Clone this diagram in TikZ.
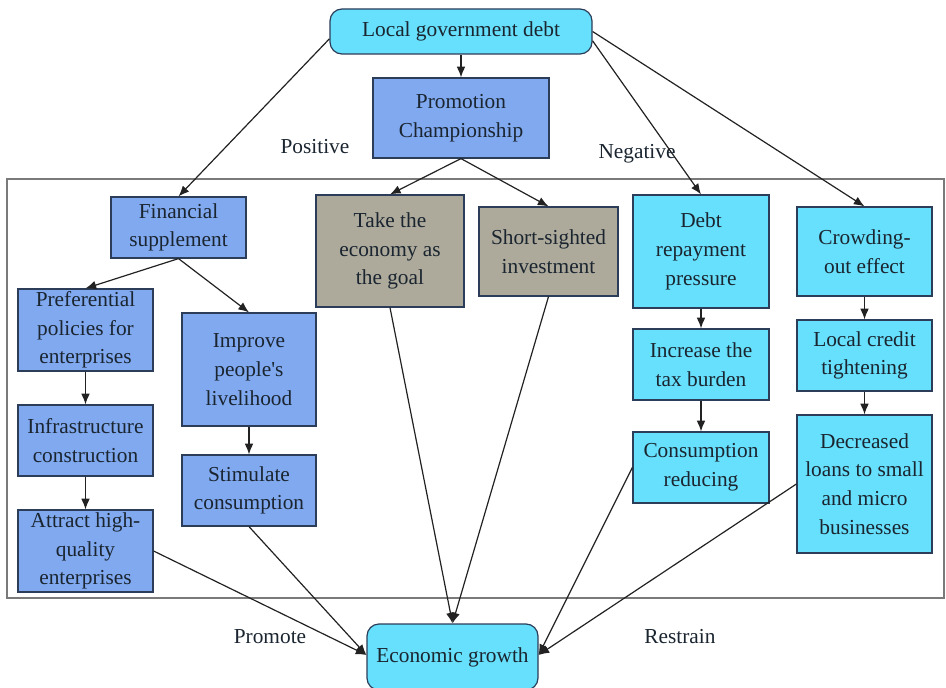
\documentclass[tikz,border=0pt]{standalone}
\usepackage{fontspec}
\setmainfont{Liberation Serif}
\usetikzlibrary{arrows.meta}
\definecolor{cyanfill}{HTML}{66E0FC}
\definecolor{bluefill}{HTML}{80A9F0}
\definecolor{grayfill}{HTML}{ADA99B}
\definecolor{boxline}{HTML}{2B3D58}
\definecolor{textcol}{HTML}{1A2530}
\definecolor{linecol}{HTML}{222222}
\definecolor{framecol}{HTML}{7A7A7A}
% \boxat{style}{name}{left}{top}{right}{bottom}{text}
\newcommand{\boxat}[7]{%
  \node[#1, minimum width={(#5-#3)*0.75pt}, minimum height={(#6-#4)*0.75pt}]
    (#2) at ({(#3+#5)/2},{(#4+#6)/2}) {#7};}
\begin{document}
\begin{tikzpicture}[x=0.75pt,y=-0.75pt,
  box/.style={draw=boxline, line width=0.9pt, inner sep=0pt, align=center,
    font=\fontsize{16}{21.5}\selectfont, text=textcol},
  cyanbox/.style={box, fill=cyanfill},
  bluebox/.style={box, fill=bluefill},
  graybox/.style={box, fill=grayfill},
  roundbox/.style={box, fill=cyanfill, rounded corners=9pt},
  arr/.style={draw=linecol, line width=0.9pt, -{Latex[length=8pt,width=6.5pt]}},
  lbl/.style={font=\fontsize{16}{20}\selectfont, text=textcol}]
\useasboundingbox (0,0) rectangle (946,688);

% frame around the lower part
\draw[framecol, line width=1pt] (7,179) rectangle (944,598);

% top
\boxat{roundbox}{lgd}{330}{9}{592}{54}{Local government debt}
\boxat{bluebox}{pc}{373}{78}{549}{158}{Promotion\\Championship}

% positive branch
\boxat{bluebox}{fs}{111}{197}{246}{258}{Financial\\supplement}
\boxat{bluebox}{pref}{18}{289}{153}{371}{Preferential\\policies for\\enterprises}
\boxat{bluebox}{infra}{18}{405}{153}{476}{Infrastructure\\construction}
\boxat{bluebox}{attr}{18}{510}{153}{592}{Attract high-\\quality\\enterprises}
\boxat{bluebox}{impr}{182}{313}{316}{426}{Improve\\people\textquotesingle s\\livelihood}
\boxat{bluebox}{stim}{182}{455}{316}{526}{Stimulate\\consumption}

% promotion championship branch
\boxat{graybox}{take}{316}{195}{464}{307}{Take the\\economy as\\the goal}
\boxat{graybox}{short}{479}{207}{618}{296}{Short-sighted\\investment}

% negative branch
\boxat{cyanbox}{debt}{633}{195}{769}{308}{Debt\\repayment\\pressure}
\boxat{cyanbox}{tax}{633}{329}{769}{400}{Increase the\\tax burden}
\boxat{cyanbox}{cons}{633}{432}{769}{503}{Consumption\\reducing}
\boxat{cyanbox}{crowd}{797}{207}{932}{296}{Crowding-\\out effect}
\boxat{cyanbox}{cred}{797}{320}{932}{391}{Local credit\\tightening}
\boxat{cyanbox}{loans}{797}{415}{932}{553}{Decreased\\loans to small\\and micro\\businesses}

% bottom
\boxat{roundbox}{eg}{367}{624}{538}{690}{Economic growth}

% labels
\node[lbl] (pos) at (315,147) {Positive};
\node[lbl] (neg) at (637,154) {Negative};
\node[lbl] (prom) at (270,637) {Promote};
\node[lbl] (restr) at (680,637) {Restrain};

% connectors from the top
\draw[arr] (lgd.south) -- (pc.north);
\draw[arr] ([yshift=-5.5pt]lgd.west) -- (fs.north);
\draw[arr] ([yshift=-7pt]lgd.east) -- (debt.north);
\draw[arr] (lgd.east) -- (crowd.north);
\draw[arr] (pc.south) -- (take.north);
\draw[arr] (pc.south) -- (short.north);

% chains
\draw[arr] (fs.south) -- (pref.north);
\draw[arr] (fs.south) -- (impr.north);
\draw[arr] (pref.south) -- (infra.north);
\draw[arr] (infra.south) -- (attr.north);
\draw[arr] (impr.south) -- (stim.north);
\draw[arr] (debt.south) -- (tax.north);
\draw[arr] (tax.south) -- (cons.north);
\draw[arr] (crowd.south) -- (cred.north);
\draw[arr] (cred.south) -- (loans.north);

% into economic growth
\draw[arr] (attr.east) -- ([yshift=1.5pt]eg.west);
\draw[arr] (stim.south) -- ([yshift=1.5pt]eg.west);
\draw[arr] (take.south) -- (eg.north);
\draw[arr] (short.south) -- (eg.north);
\draw[arr] (cons.west) -- ([yshift=1.5pt]eg.east);
\draw[arr] (loans.west) -- ([yshift=1.5pt]eg.east);
\end{tikzpicture}
\end{document}
